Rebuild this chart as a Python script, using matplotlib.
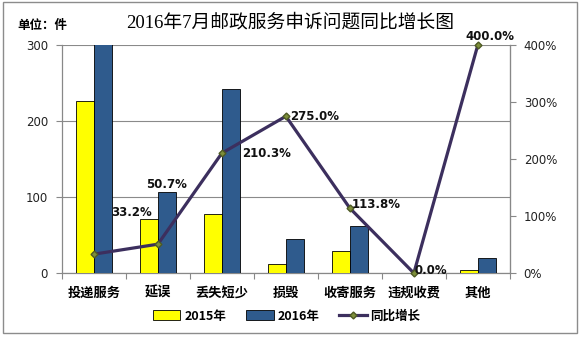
import matplotlib
matplotlib.use("Agg")
import matplotlib.pyplot as plt
from matplotlib.patches import Rectangle
from matplotlib.lines import Line2D
import numpy as np

plt.rcParams['font.family'] = ['Noto Sans CJK SC', 'DejaVu Sans']

categories = ["投递服务", "延误", "丢失短少", "损毁", "收寄服务", "违规收费", "其他"]
v2015 = [226, 71, 78, 12, 29, 0, 4]
v2016 = [301, 107, 242, 45, 62, 0, 20]
growth = [33.2, 50.7, 210.3, 275.0, 113.8, 0.0, 400.0]
left_ticks = [0, 100, 200, 300]
right_ticks = [0, 100, 200, 300, 400]
label_offsets = [(27, 30), (6, 43), (32, 0), (21, 0), (19, 3), (12, 2), (9, 6)]

fig = plt.figure(figsize=(5.84, 3.38), dpi=100)
fig.patch.set_facecolor("white")
fig.add_artist(Rectangle((0.005, 0.0148), 0.983, 0.979, transform=fig.transFigure,
                         fill=False, edgecolor="#8c8c8c", linewidth=1.0))

ax = fig.add_axes([0.106, 0.192, 0.767, 0.675])
x = np.arange(len(categories))
w = 0.28
ax.bar(x - w / 2, v2015, w, color="#FFFF00", edgecolor="black", linewidth=0.6, zorder=3, label="2015年")
ax.bar(x + w / 2, v2016, w, color="#2F5B8D", edgecolor="black", linewidth=0.6, zorder=3, label="2016年")
ax.set_ylim(0, 300)
ax.set_xlim(-0.5, len(categories) - 0.5)
ax.set_yticks(left_ticks)
ax.set_yticklabels([str(t) for t in left_ticks], fontsize=8.5, family="DejaVu Sans", color="#222222")
ax.yaxis.grid(True, color="#8a8a8a", linewidth=0.8, zorder=0)
ax.set_axisbelow(True)
ax.set_xticks(np.arange(-0.5, len(categories), 1.0))
ax.set_xticklabels([])
ax.set_xticks(x, minor=True)
ax.set_xticklabels(categories, minor=True, fontsize=9.5, fontweight="bold")
ax.tick_params(axis="x", which="minor", length=0, pad=9)
ax.tick_params(axis="x", which="major", length=4, color="#888888", direction="out")
ax.tick_params(axis="y", length=4, color="#888888", direction="out", pad=6)
ax.spines["top"].set_visible(False)
for s in ["left", "bottom", "right"]:
    ax.spines[s].set_color("#888888")
    ax.spines[s].set_linewidth(0.9)

ax2 = ax.twinx()
ax2.plot(x, growth, color="#3C2F5E", linewidth=2.3, marker="D", markersize=3.5,
         markerfacecolor="#7E8F3A", markeredgecolor="#4E5A24", zorder=5, clip_on=False)
ax2.set_ylim(0, 400)
ax2.set_yticks(right_ticks)
ax2.set_yticklabels([f"{t}%" for t in right_ticks], fontsize=8.5, family="DejaVu Sans", color="#222222")
ax2.tick_params(axis="y", length=4, color="#888888", direction="out", pad=6)
for s in ["top", "left", "bottom"]:
    ax2.spines[s].set_visible(False)
ax2.spines["right"].set_color("#888888")

for xi, g, off in zip(x, growth, label_offsets):
    ax2.annotate(f"{g:.1f}%", (xi, g), xytext=off, textcoords="offset points",
                 ha="center", va="center",
                 fontsize=8.5, fontweight="bold", family="DejaVu Sans", color="#111111", zorder=6)

fig.text(0.497, 0.932, "2016年7月邮政服务申诉问题同比增长图", ha="center", va="center",
         fontsize=13.5, family=["Liberation Serif", "Noto Sans CJK SC"])
fig.text(0.029, 0.925, "单位：件", ha="left", va="center", fontsize=9, fontweight="bold")

handles = [Rectangle((0, 0), 1, 1, facecolor="#FFFF00", edgecolor="black", linewidth=0.6),
           Rectangle((0, 0), 1, 1, facecolor="#2F5B8D", edgecolor="black", linewidth=0.6),
           Line2D([], [], color="#3C2F5E", linewidth=2.3, marker="D", markersize=3.5,
                  markerfacecolor="#7E8F3A", markeredgecolor="#4E5A24")]
fig.legend(handles, ["2015年", "2016年", "同比增长"], loc="center", bbox_to_anchor=(0.491, 0.065),
           ncol=3, frameon=False, prop={"weight": "bold", "size": 9},
           handlelength=2.2, handleheight=0.8, columnspacing=1.6, handletextpad=0.3)

fig.savefig("out.png", dpi=100)
